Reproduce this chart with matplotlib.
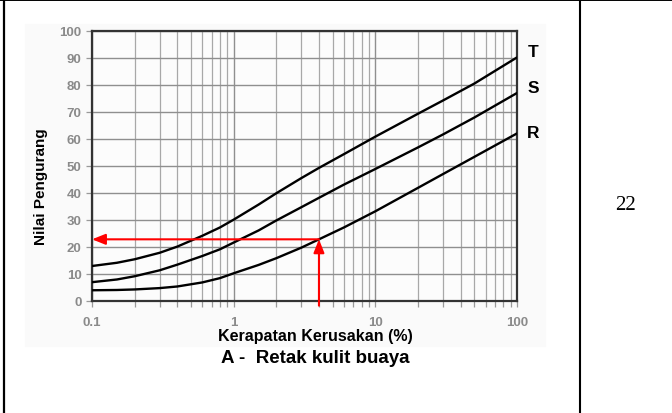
import matplotlib
matplotlib.use("Agg")
import matplotlib.pyplot as plt
from matplotlib.patches import Rectangle
from matplotlib.lines import Line2D

plt.rcParams['font.family'] = ['Liberation Sans', 'DejaVu Sans']

# values (density % vs deduct value)
density = [0.1, 0.15, 0.2, 0.3, 0.4, 0.6, 0.8, 1, 1.5, 2, 3, 4, 6, 10, 20, 30, 50, 100]
curve_T = [12.8, 14.0, 15.3, 17.7, 20.0, 24.0, 27.1, 30.0, 35.6, 39.8, 45.4, 49.2, 54.3, 60.8, 69.3, 74.2, 80.5, 90.2]
curve_S = [6.8, 7.8, 9.0, 11.2, 13.3, 16.5, 19.0, 21.5, 26.0, 29.7, 34.6, 38.1, 43.0, 48.8, 56.8, 61.6, 67.9, 77.0]
curve_R = [3.8, 3.9, 4.1, 4.6, 5.2, 6.7, 8.3, 10.1, 13.2, 15.7, 19.6, 22.7, 27.1, 33.1, 41.8, 46.9, 53.3, 62.0]
curve_names = ['T', 'S', 'R']
label_offsets = [(11.5, 4), (11.5, 4), (11.5, 0.5)]

# red reading example
read_density = 4.0
read_value = 22.7

xticks = [0.1, 1, 10, 100]
xticklabels = ['0.1', '1', '10', '100']
yticks = list(range(0, 101, 10))

fig = plt.figure(figsize=(6.72, 4.14), dpi=100)

# table cell borders around the figure
fig.add_artist(Line2D([3.5 / 672, 3.5 / 672], [0, 1], color='black', lw=1.6))
fig.add_artist(Line2D([0, 1], [1 - 0.8 / 414, 1 - 0.8 / 414], color='black', lw=1.4))
fig.add_artist(Line2D([579.5 / 672, 579.5 / 672], [0, 1], color='black', lw=1.5))
fig.text(625 / 672, 1 - 206 / 414, '22', family='Liberation Serif', fontsize=15,
         ha='center', va='center')

# faint scan background
fig.add_artist(Rectangle((25 / 672, 1 - 347 / 414), 520 / 672, 322 / 414,
                         transform=fig.transFigure, color='#fafafa', zorder=0))

ax = fig.add_axes([92 / 672, 1 - 301.5 / 414, 425 / 672, 269.5 / 414])
ax.set_facecolor('#fcfcfc')
ax.set_xscale('log')
ax.set_xlim(0.1, 100)
ax.set_ylim(0, 100)

ax.set_xticks(xticks)
ax.set_xticklabels(xticklabels)
ax.set_yticks(yticks)
ax.grid(True, which='major', color='#8f8f8f', lw=1.0)
ax.grid(True, which='minor', axis='x', color='#a8a8a8', lw=0.9)
ax.tick_params(which='both', direction='out', length=4.5, width=0.9, color='#999999',
               labelcolor='#8a8a8a', labelsize=9.5)
ax.tick_params(axis='x', which='major', pad=7)
ax.tick_params(axis='x', which='minor', labelbottom=False)
ax.tick_params(axis='y', pad=3)
for lab in ax.get_xticklabels() + ax.get_yticklabels():
    lab.set_fontweight('bold')
for sp in ax.spines.values():
    sp.set_color('#333333')
    sp.set_linewidth(1.6)

for name, vals, off in zip(curve_names, [curve_T, curve_S, curve_R], label_offsets):
    ax.plot(density, vals, color='black', lw=1.7, solid_capstyle='round',
            solid_joinstyle='round', zorder=3)
    ax.annotate(name, xy=(density[-1], vals[-1]), xytext=off, textcoords='offset points',
                ha='center', va='center', fontsize=12.5, fontweight='bold',
                annotation_clip=False)

# red arrows: up from density axis, then left to deduct value axis
ax.annotate('', xy=(read_density, read_value), xytext=(read_density, -1.9),
            arrowprops=dict(arrowstyle='-|>,head_length=0.8,head_width=0.32', color='red',
                            lw=1.5, shrinkA=0, shrinkB=0),
            annotation_clip=False, zorder=4)
ax.annotate('', xy=(0.1, read_value), xytext=(read_density, read_value),
            arrowprops=dict(arrowstyle='-|>,head_length=0.8,head_width=0.32', color='red',
                            lw=1.5, shrinkA=0, shrinkB=0),
            annotation_clip=False, zorder=4)

fig.text(41 / 672, 1 - 187 / 414, 'Nilai Pengurang', rotation=90, fontsize=11,
         fontweight='bold', ha='center', va='center')
fig.text(315 / 672, 1 - 336 / 414, 'Kerapatan Kerusakan (%)', fontsize=11.5,
         fontweight='bold', ha='center', va='center')
fig.text(315 / 672, 1 - 359 / 414, 'A -  Retak kulit buaya', fontsize=13.5,
         fontweight='bold', ha='center', va='center')

fig.savefig('out.png', dpi=100)
